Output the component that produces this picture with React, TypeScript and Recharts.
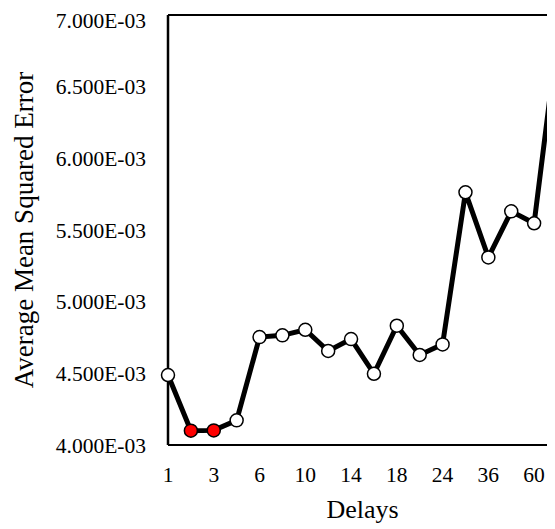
import { LineChart, Line, XAxis, YAxis, ReferenceLine } from 'recharts';

// delay values on the category axis (only every other one is labelled)
const delays = ['1', '2', '3', '4', '6', '8', '10', '12', '14', '16', '18', '20', '24', '30', '36', '48', '60', '72'];
// average MSE per delay
const mse = [
    0.004488, 0.004100, 0.004102, 0.004172, 0.004753, 0.004765, 0.004804, 0.004656, 0.004739,
    0.004497, 0.004832, 0.004628, 0.004702, 0.005763, 0.005309, 0.005630, 0.005547, 0.006819,
];
// the lowest-error delays are shown in red
const bestDelays = ['2', '3'];
const yTicks = [0.004, 0.0045, 0.005, 0.0055, 0.006, 0.0065, 0.007];

const data = delays.map((d, i) => ({ delay: d, mse: mse[i] }));

const SERIF = '"Liberation Serif", "Times New Roman", serif';

const fmtSci = (v: number) => {
    const [m, e] = v.toExponential(3).split('e');
    const n = Number(e);
    return `${m}E${n < 0 ? '-' : '+'}${String(Math.abs(n)).padStart(2, '0')}`;
};

const Dot = (props: any) => {
    const { cx, cy, payload } = props;
    const red = bestDelays.includes(payload.delay);
    return (
        <circle
            key={payload.delay}
            cx={cx}
            cy={cy}
            r={6.5}
            fill={red ? '#FF0000' : '#FFFFFF'}
            stroke="#000"
            strokeWidth={1.5}
        />
    );
};

export default function App() {
    // the plot runs off the right edge in the original figure; the page clips it
    return (
        <div style={{ fontFamily: SERIF }}>
            <style>{'html, body { overflow: hidden; }'}</style>
            <LineChart width={580} height={521} data={data} margin={{ top: 7, right: 31, left: 0, bottom: 0 }}>
                <XAxis
                    dataKey="delay"
                    interval={1}
                    height={84}
                    tickLine={false}
                    tickSize={0}
                    tickMargin={22}
                    axisLine={{ stroke: '#000', strokeWidth: 2 }}
                    tick={{ fontSize: 21.5, fill: '#000', fontFamily: SERIF }}
                    label={{ value: 'Delays', position: 'insideBottom', offset: 11, style: { fontSize: 26, fill: '#000', fontFamily: SERIF } }}
                />
                <YAxis
                    domain={[0.004, 0.007]}
                    ticks={yTicks}
                    width={160}
                    tickLine={false}
                    tickSize={0}
                    tickMargin={22}
                    tickFormatter={fmtSci}
                    axisLine={{ stroke: '#000', strokeWidth: 2.5 }}
                    tick={{ fontSize: 21.5, fill: '#000', fontFamily: SERIF }}
                    label={{
                        value: 'Average Mean Squared Error',
                        angle: -90,
                        position: 'insideLeft',
                        offset: 15,
                        style: { fontSize: 27, fill: '#000', textAnchor: 'middle', fontFamily: SERIF },
                    }}
                />
                <ReferenceLine y={0.007} stroke="#000" strokeWidth={2} />
                <Line
                    type="linear"
                    dataKey="mse"
                    stroke="#000"
                    strokeWidth={5}
                    dot={Dot}
                    activeDot={false}
                    isAnimationActive={false}
                />
            </LineChart>
        </div>
    );
}
